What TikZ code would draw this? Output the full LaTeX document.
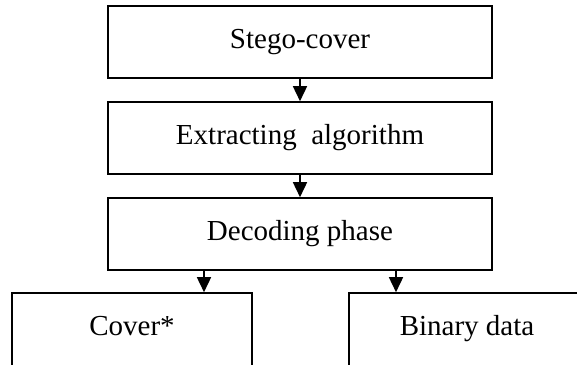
\documentclass[tikz,border=0pt]{standalone}
\usepackage{fontspec}
\setmainfont{Liberation Serif}
\usetikzlibrary{arrows.meta}
\begin{document}
\begin{tikzpicture}[x=1pt,y=1pt,
  box/.style={draw, line width=1.6pt, rectangle, inner sep=0pt,
    minimum height=72pt, text height=20pt, text depth=8pt,
    font=\fontsize{29}{34}\selectfont},
  lowbox/.style={box, minimum height=80pt, text depth=16pt},
  arr/.style={line width=1.6pt, -{Triangle[length=15pt,width=14pt]}}]
\useasboundingbox (0,0) rectangle (577,-364);
\clip (0,0) rectangle (577,-364);
\node[box, minimum width=384pt] (s) at (300,-42) {Stego-cover};
\node[box, minimum width=384pt] (e) at (300,-138) {Extracting~ algorithm};
\node[box, minimum width=384pt] (d) at (300,-234) {Decoding phase};
\node[lowbox, minimum width=240pt] (c) at (132,-333) {Cover*};
\node[lowbox, minimum width=236pt] (b) at (467,-333) {Binary data};
\draw[arr] (s.south) -- (e.north);
\draw[arr] (e.south) -- (d.north);
\draw[arr] ([xshift=-96pt]d.south) -- ([xshift=-96pt]d.south |- c.north);
\draw[arr] ([xshift=96pt]d.south) -- ([xshift=96pt]d.south |- b.north);
\end{tikzpicture}
\end{document}
